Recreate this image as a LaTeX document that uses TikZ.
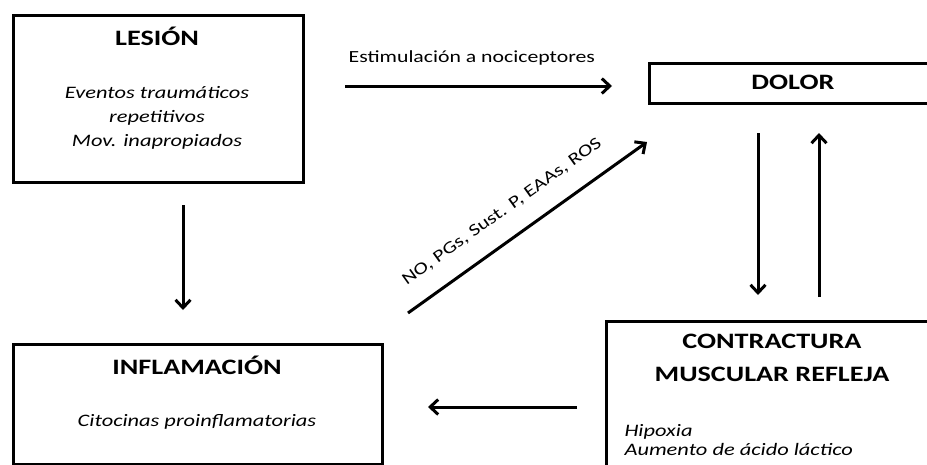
\documentclass[tikz,border=0pt]{standalone}
\usepackage{fontspec}
\usepackage{graphicx}
\setmainfont{Carlito}
\usetikzlibrary{arrows.meta, positioning}
\newcommand\ancho[1]{\scalebox{1.28}[1]{#1}}

\begin{document}
\begin{tikzpicture}[x=1pt,y=-1pt,
      >={Straight Barb[length=8pt,width=15pt]},
      box/.style={draw, rectangle, line width=3pt, inner sep=0pt},
      titulo/.style={font=\fontsize{22}{33}\selectfont\bfseries, align=center},
      texto/.style={font=\fontsize{17.5}{24}\selectfont\itshape, align=center},
      flecha/.style={->, line width=3pt}]
            \clip (0,0) rectangle (927,464);

            \node [box, anchor=north west, minimum width=290, minimum height=167] at (12,14) (lesion) {};
            \node [titulo] at (157,36) (lesiontit) {\ancho{LESIÓN}};
            \node [texto] at (157,118) (lesiontxt) {\ancho{Eventos traumáticos}\\\ancho{repetitivos}\\\ancho{Mov. inapropiados}};

            \node [box, anchor=north west, minimum width=292, minimum height=40] at (648,62) (dolor) {};
            \node [titulo] at (793,82) (dolortit) {\ancho{DOLOR}};

            \node [box, anchor=north west, minimum width=369, minimum height=120] at (12,343) (inflam) {};
            \node [titulo] at (197,365) (inflamtit) {\ancho{INFLAMACIÓN}};
            \node [texto] at (197,422) (inflamtxt) {\ancho{Citocinas proinflamatorias}};

            \node [box, anchor=north west, minimum width=335, minimum height=170] at (605,320) (contract) {};
            \node [titulo] at (772,358) (contracttit) {\ancho{CONTRACTURA}\\\ancho{MUSCULAR REFLEJA}};
            \node [texto, align=left, anchor=west, font=\fontsize{17.5}{19}\selectfont\itshape] at (621,440) (contracttxt) {\ancho{Hipoxia}\\\ancho{Aumento de ácido láctico}};

            \coordinate (estim1) at (345,86);
            \coordinate (estim2) at (612,86);
            \coordinate (medi1) at (408,313);
            \coordinate (medi2) at (647,142);
            \coordinate (baja1) at (758,133);
            \coordinate (baja2) at (758,295);
            \coordinate (sube1) at (819,297);
            \coordinate (sube2) at (819,133);
            \coordinate (les1) at (183,205);
            \coordinate (les2) at (183,310);
            \coordinate (vuelta1) at (577,407);
            \coordinate (vuelta2) at (428,407);

            \draw [flecha] (estim1) -- (estim2) node [pos=.475, above=16pt, font=\fontsize{17}{20}\selectfont] (estimlab) {\ancho{Estimulación a nociceptores}};
            \draw [flecha] (medi1) -- (medi2) node [pos=.46, sloped, above=16pt, font=\fontsize{17}{20}\selectfont] (medilab) {\ancho{NO, PGs, Sust. P, EAAs, ROS}};
            \draw [flecha] (baja1) -- (baja2);
            \draw [flecha] (sube1) -- (sube2);
            \draw [flecha] (les1) -- (les2);
            \draw [flecha] (vuelta1) -- (vuelta2);
\end{tikzpicture}
\end{document}
